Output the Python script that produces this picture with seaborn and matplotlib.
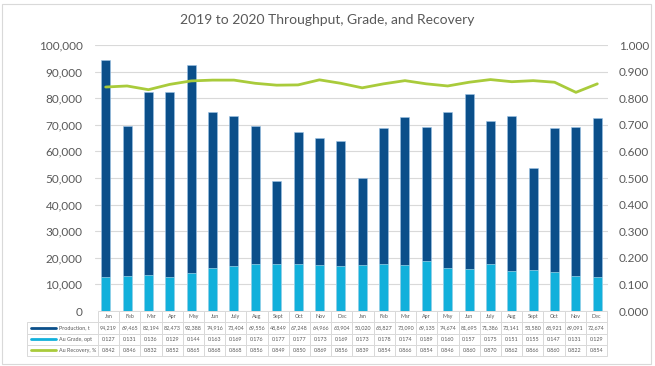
import numpy as np
import pandas as pd
import matplotlib
matplotlib.use("Agg")
import matplotlib.pyplot as plt
import seaborn as sns
from matplotlib.lines import Line2D
from matplotlib.patches import Rectangle

months = ["Jan", "Feb", "Mar", "Apr", "May", "Jun", "July", "Aug", "Sept", "Oct", "Nov", "Dec",
          "Jan", "Feb", "Mar", "Apr", "May", "Jun", "July", "Aug", "Sept", "Oct", "Nov", "Dec"]
production = [94219, 69465, 82194, 82473, 92388, 74916, 73404, 69556, 48849, 67248, 64966, 63904,
              50020, 68827, 73090, 69135, 74674, 81695, 71386, 73141, 53580, 68921, 69091, 72674]
grade = [0.127, 0.131, 0.136, 0.129, 0.144, 0.163, 0.169, 0.176, 0.177, 0.177, 0.173, 0.169,
         0.173, 0.178, 0.174, 0.189, 0.160, 0.157, 0.175, 0.151, 0.155, 0.147, 0.131, 0.129]
recovery = [0.842, 0.846, 0.832, 0.852, 0.865, 0.868, 0.868, 0.856, 0.849, 0.850, 0.869, 0.856,
            0.839, 0.854, 0.866, 0.854, 0.846, 0.860, 0.870, 0.862, 0.866, 0.860, 0.822, 0.854]
series_names = ["Production, t", "Au Grade, opt", "Au Recovery, %"]
title = "2019 to 2020 Throughput, Grade, and Recovery"

C_PROD = "#0B4F8A"
C_GRADE = "#12B0DB"
C_REC = "#A9CB3B"
TXT = "#595959"
GRID = "#D9D9D9"

df = pd.DataFrame({"idx": np.arange(len(months)), "month": months,
                   "production": production, "grade": grade, "recovery": recovery})

sns.set_theme(style="white")
plt.rcParams["font.family"] = ["Lato", "DejaVu Sans"]

W, H = 655, 366
fig = plt.figure(figsize=(W / 100, H / 100), dpi=100)
L, R, T, B = 95, 608, 45, 311
ax = fig.add_axes([L / W, 1 - B / H, (R - L) / W, (B - T) / H])
ax2 = ax.twinx()

sns.barplot(data=df, x="idx", y="production", ax=ax, color=C_PROD, width=0.42,
            edgecolor="#9DC3E6", linewidth=0.4, saturation=1, zorder=2)
sns.barplot(data=df, x="idx", y="grade", ax=ax2, color=C_GRADE, width=0.42,
            edgecolor="#BDE8F5", linewidth=0.4, saturation=1, zorder=2)
sns.lineplot(data=df, x="idx", y="recovery", ax=ax2, color=C_REC, linewidth=2.0, zorder=3)

ax.set_ylim(0, 100000)
ax2.set_ylim(0, 1.0)
ax.set_xlim(-0.5, len(months) - 0.5)
ax.set_yticks(np.arange(0, 100001, 10000))
ax.set_yticklabels([f"{v:,}" for v in range(0, 100001, 10000)])
ax2.set_yticks(np.arange(0, 1.0001, 0.1))
ax2.set_yticklabels([f"{v:.3f}" for v in np.arange(0, 1.0001, 0.1)])
ax.yaxis.grid(True, color=GRID, linewidth=0.8, zorder=0)
ax.set_axisbelow(True)
for a in (ax, ax2):
    for s in a.spines.values():
        s.set_visible(False)
    a.set_xlabel("")
    a.set_ylabel("")
    a.set_xticks([])
    a.tick_params(axis="y", length=0, labelsize=8.5, colors=TXT, pad=8)
ax.tick_params(axis="y", pad=9)

fig.text(0.5, 1 - 20 / H, title, ha="center", va="center", fontsize=10, color=TXT)

# data table
tx0, tx1 = 27, 607
ty0, ty1 = 311, 356
first_w = 71
other_w = (tx1 - tx0 - first_w) / len(months)
bbox = [(tx0 - L) / (R - L), -(ty1 - B) / (B - T), (tx1 - tx0) / (R - L), (ty1 - ty0) / (B - T)]
cell_text = [[""] + months,
             [""] + [f"{v:,}" for v in production],
             [""] + [f"{v:.3f}" for v in grade],
             [""] + [f"{v:.3f}" for v in recovery]]
tbl = ax.table(cellText=cell_text, colWidths=[first_w] + [other_w] * len(months),
               bbox=bbox, cellLoc="center")
tbl.auto_set_font_size(False)
for (r, c), cell in tbl.get_celld().items():
    cell.set_edgecolor(GRID)
    cell.set_linewidth(0.7)
    cell.get_text().set_fontsize(3.9)
    cell.get_text().set_color(TXT)
    cell.set_facecolor("white")
    if r == 0 and c == 0:
        cell.set_edgecolor("white")
        cell.visible_edges = ""

row_h = (ty1 - ty0) / 4
colors = [C_PROD, C_GRADE, C_REC]
for i, (name, col) in enumerate(zip(series_names, colors)):
    yc = ty0 + row_h * (i + 1.5)
    ya = (B - yc) / (B - T)
    xa0 = (31 - L) / (R - L)
    xa1 = (56 - L) / (R - L)
    ax.add_line(Line2D([xa0, xa1], [ya, ya], transform=ax.transAxes, color=col,
                       linewidth=2.0, clip_on=False, zorder=5))
    ax.text((59 - L) / (R - L), ya, name, transform=ax.transAxes, fontsize=3.9,
            color=TXT, va="center", ha="left", clip_on=False, zorder=5)

fig.patches.append(Rectangle((2 / W, 2 / H), 1 - 6 / W, 1 - 6 / H, transform=fig.transFigure,
                             fill=False, edgecolor=GRID, linewidth=0.8))

fig.savefig("out.png", dpi=100)
